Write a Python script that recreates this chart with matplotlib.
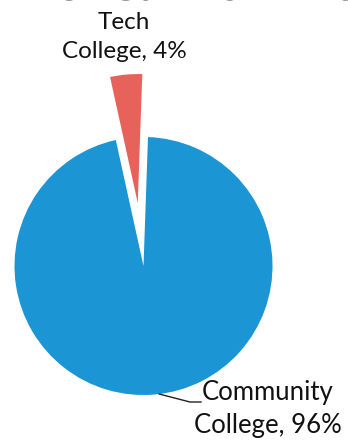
import matplotlib.pyplot as plt
import numpy as np

# 数据
categories = ["Community\nCollege", "Tech\nCollege"]
shares = [96, 4]
colors = ["#1B95D3", "#E8625C"]

plt.rcParams["font.family"] = ["Lato", "DejaVu Sans"]

W, H = 348, 448
fig = plt.figure(figsize=(W / 100, H / 100), dpi=100)
ax = fig.add_axes([0, 0, 1, 1])

# pie in pixel-like coordinates (y measured from the bottom)
cx, cy, r = 143.5, H - 266, 129
wedges, _ = ax.pie(shares, colors=colors, startangle=88, counterclock=False,
                   explode=[0, 0.49 * r], center=(cx, cy), radius=r,
                   wedgeprops=dict(linewidth=0))
ax.set_xlim(0, W)
ax.set_ylim(0, H)
ax.set_aspect("equal")
ax.axis("off")

# cut-off title at the top
ax.text(-118, H - 6, "Academic Year 2022-2023", fontsize=26, fontweight="bold",
        ha="left", va="bottom", color="#222222", family="DejaVu Sans")

# labels
ax.text(124, H - 37, f"{categories[1]}, {shares[1]}%", fontsize=17.5,
        ha="center", va="center", linespacing=1.45, color="#111111")
ax.text(268, H - 409, f"{categories[0]}, {shares[0]}%", fontsize=18.5,
        ha="center", va="center", linespacing=1.4, color="#111111")

# leader line for the community label
ang = np.deg2rad(-83)
ex, ey = cx + r * np.cos(ang), cy + r * np.sin(ang)
ax.plot([ex, 190, 201], [ey, H - 402, H - 402], color="#222222", lw=1)

fig.savefig("out.png", dpi=100, facecolor="white")
